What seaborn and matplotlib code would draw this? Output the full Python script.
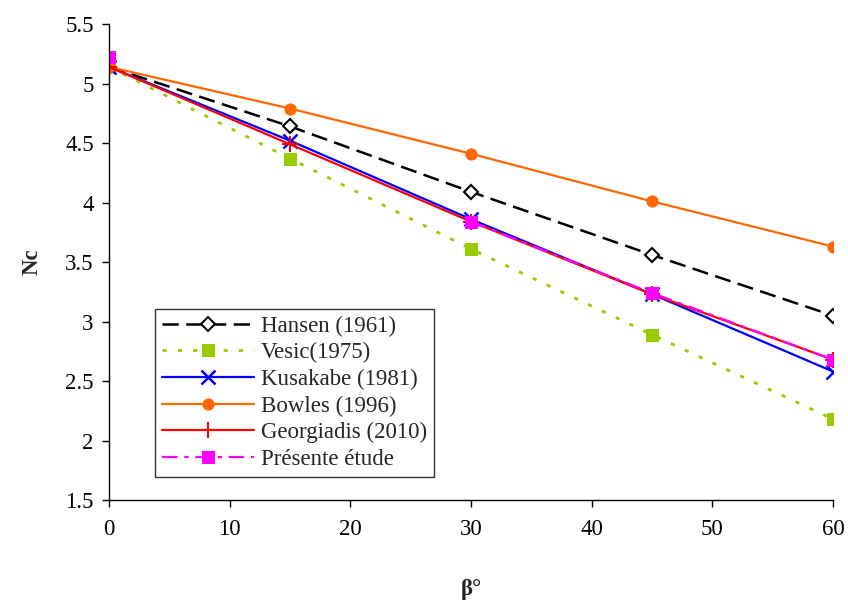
import matplotlib
matplotlib.use('Agg')
import matplotlib.pyplot as plt
import numpy as np
import pandas as pd
import seaborn as sns

beta = [0, 15, 30, 45, 60]
hansen = [5.14, 4.64, 4.09, 3.56, 3.05]
vesic = [5.14, 4.37, 3.61, 2.89, 2.18]
kusakabe = [5.14, 4.52, 3.86, 3.23, 2.58]
bowles = [5.14, 4.79, 4.41, 4.01, 3.63]
georgiadis = [5.14, 4.49, 3.84, 3.23, 2.68]
# no value at 15 -> the point at 0 stands alone, as in the original
presente = [5.22, np.nan, 3.84, 3.24, 2.68]

sns.set_style('ticks')
plt.rcParams['font.family'] = ['Liberation Serif', 'DejaVu Serif']

fig = plt.figure(figsize=(8.48, 6.01), dpi=100)
ax = fig.add_axes([0.1285, 0.168, 0.8538, 0.792])

series = [
    ('Hansen (1961)', hansen, dict(color='black', linestyle=(0, (6.5, 3)), linewidth=1.8, marker='D', markersize=7,
                                    markerfacecolor='white', markeredgecolor='black', markeredgewidth=1.5)),
    ('Vesic(1975)', vesic, dict(color='#99CC00', linestyle=(0, (1.5, 4)), linewidth=2, marker='s', markersize=8,
                                markeredgecolor='#99CC00')),
    ('Kusakabe (1981)', kusakabe, dict(color='#0000FF', linestyle='-', linewidth=1.6, marker='x', markersize=10,
                                        markeredgecolor='#0000FF', markeredgewidth=1.8)),
    ('Bowles (1996)', bowles, dict(color='#FF6600', linestyle='-', linewidth=1.6, marker='o', markersize=8,
                                    markeredgecolor='#FF6600')),
    ('Georgiadis (2010)', georgiadis, dict(color='#FF0000', linestyle='-', linewidth=1.6, marker='+', markersize=12,
                                            markeredgecolor='#FF0000', markeredgewidth=1.5)),
    ('Présente étude', presente, dict(color='#FF00FF', linestyle=(0, (7, 3, 2, 3)), linewidth=1.6, marker='s',
                                      markersize=8, markeredgecolor='#FF00FF')),
]

for name, ys, kw in series:
    df = pd.DataFrame({'beta': beta, 'Nc': ys})
    # split at gaps so seaborn does not bridge them
    grp = df['Nc'].isna().cumsum()
    df = df.dropna()
    first = True
    for _, part in df.groupby(grp.loc[df.index]):
        sns.lineplot(data=part, x='beta', y='Nc', ax=ax, label=name if first else None,
                     legend=first, **kw)
        first = False

ax.set_xlim(0, 60)
ax.set_ylim(1.5, 5.5)
ax.set_xticks(np.arange(0, 61, 10))
ax.set_yticks(np.arange(1.5, 5.51, 0.5))
ax.set_yticklabels(['1.5', '2', '2.5', '3', '3.5', '4', '4.5', '5', '5.5'])
ax.tick_params(labelsize=16.5, length=5, width=1, colors='black', direction='out')
ax.tick_params(axis='x', pad=9)
ax.tick_params(axis='y', pad=6)
for s in ['top', 'right']:
    ax.spines[s].set_visible(False)
for s in ['left', 'bottom']:
    ax.spines[s].set_color('black')
    ax.spines[s].set_linewidth(1)

ax.set_xlabel('β°', fontsize=16.5, fontweight='bold', labelpad=28)
ax.set_ylabel('Nc', fontsize=16.5, fontweight='bold', labelpad=16)

leg = ax.legend(loc='upper left', bbox_to_anchor=(0.064, 0.402), fontsize=16.5, handlelength=4.0,
                frameon=True, fancybox=False, edgecolor='black', borderpad=0.3, labelspacing=0.24,
                handletextpad=0.3, borderaxespad=0)
leg.get_frame().set_linewidth(1)

fig.savefig('out.png', dpi=100)
